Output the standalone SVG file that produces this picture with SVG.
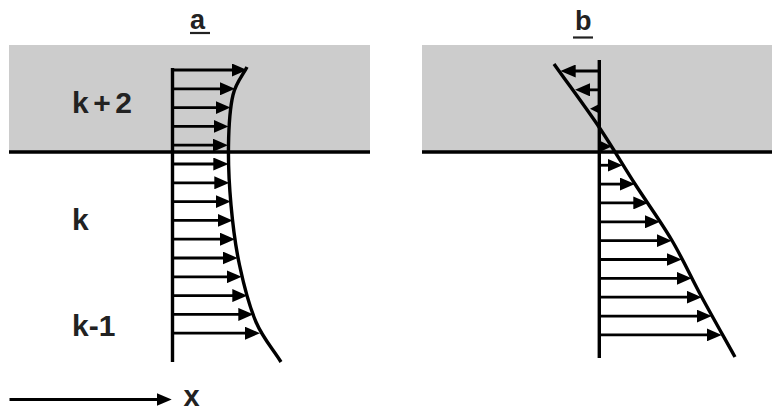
<svg xmlns="http://www.w3.org/2000/svg" width="772" height="412" viewBox="0 0 772 412">
<style>
.band{fill:#cccccc}
.bound{stroke:#000;stroke-width:3.5;fill:none}
.axis{stroke:#000;stroke-width:3.4;fill:none}
.prof{stroke:#000;stroke-width:3.4;fill:none}
.vec{stroke:#000;stroke-width:2.8;fill:none;marker-end:url(#ah)}
.lbl{font-family:"Liberation Sans",Arial,sans-serif;font-weight:bold;font-size:30px;fill:#222}
.ttl{font-family:"Liberation Sans",Arial,sans-serif;font-weight:bold;font-size:27px;fill:#222}
.ul{stroke:#222;stroke-width:2.2}
</style>
<defs>
<marker id="ah" viewBox="0 0 15 13" refX="8" refY="6.5" markerWidth="15" markerHeight="13" markerUnits="userSpaceOnUse" orient="auto">
<path d="M0,0 L15,6.5 L0,13 z" fill="#000"/>
</marker>
</defs>

<g id="panel-a">
<rect class="band" x="9" y="45" width="361" height="107"/>
<line class="bound" x1="9" y1="152" x2="370" y2="152"/>
<text class="ttl" x="190" y="28.5">a</text>
<line class="ul" x1="190" y1="33" x2="210" y2="33"/>
<line class="axis" x1="172.5" y1="68" x2="172.5" y2="362"/>
<path class="prof" d="M247,67 C242.3,76.3 236.1,82 233,95 C229.9,108 228.8,126.7 228.5,145 C228.2,163.3 229.2,185 231,205 C232.8,225 235.3,245.5 239.5,265 C243.7,284.5 249.1,305.8 256,322 C262.9,338.2 272.7,348.7 281,362"/>
<g id="vectors-a">
<line class="vec" x1="172.5" y1="70" x2="240" y2="70"/>
<line class="vec" x1="172.5" y1="88.8" x2="228" y2="88.8"/>
<line class="vec" x1="172.5" y1="107.6" x2="223.5" y2="107.6"/>
<line class="vec" x1="172.5" y1="126.4" x2="221.5" y2="126.4"/>
<line class="vec" x1="172.5" y1="145.2" x2="221" y2="145.2"/>
<line class="vec" x1="172.5" y1="164" x2="221.3" y2="164"/>
<line class="vec" x1="172.5" y1="182.8" x2="222.3" y2="182.8"/>
<line class="vec" x1="172.5" y1="201.6" x2="223.7" y2="201.6"/>
<line class="vec" x1="172.5" y1="220.4" x2="225.7" y2="220.4"/>
<line class="vec" x1="172.5" y1="239.2" x2="228" y2="239.2"/>
<line class="vec" x1="172.5" y1="258" x2="230.7" y2="258"/>
<line class="vec" x1="172.5" y1="276.8" x2="234.7" y2="276.8"/>
<line class="vec" x1="172.5" y1="295.6" x2="240.3" y2="295.6"/>
<line class="vec" x1="172.5" y1="314.4" x2="246.3" y2="314.4"/>
<line class="vec" x1="172.5" y1="333.2" x2="253" y2="333.2"/>
</g>
</g>

<g id="panel-b">
<rect class="band" x="422" y="45" width="350" height="107"/>
<line class="bound" x1="422" y1="152" x2="772" y2="152"/>
<text class="ttl" x="575" y="30">b</text>
<line class="ul" x1="573" y1="37.5" x2="593" y2="37.5"/>
<line class="axis" x1="599.3" y1="60" x2="599.3" y2="358"/>
<path class="prof" d="M554,64 C569.1,85.2 585.8,107.5 599.3,127.5 C612.8,147.5 622.9,165.25 635,184 C647.1,202.75 660.6,221.2 671.7,240 C682.8,258.8 691.15,277.5 701.7,297 C712.25,316.5 723.9,337 735,357"/>
<g id="vectors-b">
<line class="vec" x1="599.3" y1="71" x2="567.7" y2="71"/>
<line class="vec" x1="599.3" y1="89.85" x2="582" y2="89.85"/>
<polygon points="590,108.7 599.3,104 599.3,113.4" fill="#000"/>
<polygon points="611.7,146.4 599.3,140.5 599.3,152.3" fill="#000"/>
<line class="vec" x1="599.3" y1="165.25" x2="615.5" y2="165.25"/>
<line class="vec" x1="599.3" y1="184.1" x2="628" y2="184.1"/>
<line class="vec" x1="599.3" y1="202.95" x2="641.3" y2="202.95"/>
<line class="vec" x1="599.3" y1="221.8" x2="653" y2="221.8"/>
<line class="vec" x1="599.3" y1="240.65" x2="664.7" y2="240.65"/>
<line class="vec" x1="599.3" y1="259.5" x2="674.7" y2="259.5"/>
<line class="vec" x1="599.3" y1="278.35" x2="684.7" y2="278.35"/>
<line class="vec" x1="599.3" y1="297.2" x2="694.7" y2="297.2"/>
<line class="vec" x1="599.3" y1="316.05" x2="704.7" y2="316.05"/>
<line class="vec" x1="599.3" y1="334.9" x2="714.7" y2="334.9"/>
</g>
</g>

<g id="layer-labels">
<text class="lbl" x="72" y="113" textLength="60" lengthAdjust="spacing">k+2</text>
<text class="lbl" x="72" y="230">k</text>
<text class="lbl" x="72" y="335.5">k-1</text>
</g>

<g id="x-axis">
<line class="vec" x1="9.5" y1="399.5" x2="164.7" y2="399.5"/>
<text class="lbl" x="183.5" y="406" style="font-size:29px">x</text>
</g>
</svg>
